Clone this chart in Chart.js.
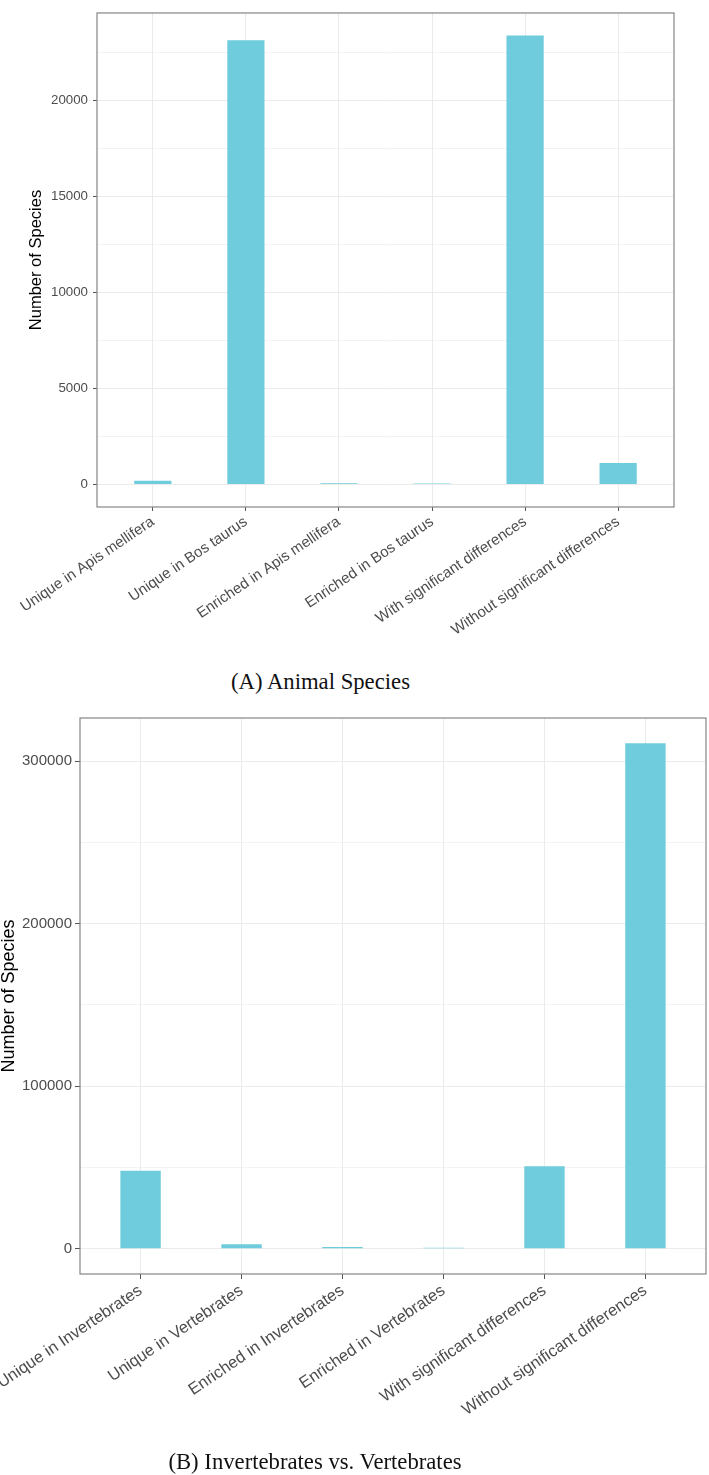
<!DOCTYPE html>
<html>
<head>
<meta charset="utf-8">
<script src="https://cdn.jsdelivr.net/npm/chart.js@4"></script>
<style>
  body { margin: 0; background: #fff; width: 709px; height: 1475px; position: relative; overflow: hidden; }
  canvas { position: absolute; left: 0; }
  #chartA { top: 0; }
  #chartB { top: 690px; }
  .caption {
    position: absolute; left: 0; text-align: center; color: #111;
    font-family: "Liberation Serif", "Times New Roman", serif;
    font-size: 22.7px; line-height: 22.7px;
  }
  #capA { top: 671px; width: 641px; }
  #capB { top: 1451px; width: 630px; }
</style>
</head>
<body>
<canvas id="chartA" width="709" height="650"></canvas>
<div class="caption" id="capA">(A) Animal Species</div>
<canvas id="chartB" width="709" height="760"></canvas>
<div class="caption" id="capB">(B) Invertebrates vs. Vertebrates</div>

<script>
// (A) animal species
const animalCategories = [
  "Unique in Apis mellifera",
  "Unique in Bos taurus",
  "Enriched in Apis mellifera",
  "Enriched in Bos taurus",
  "With significant differences",
  "Without significant differences"
];
const animalCounts = [200, 23150, 70, 60, 23400, 1120];
const animalTicks = [0, 5000, 10000, 15000, 20000];

// (B) invertebrates vs vertebrates
const invertCategories = [
  "Unique in Invertebrates",
  "Unique in Vertebrates",
  "Enriched in Invertebrates",
  "Enriched in Vertebrates",
  "With significant differences",
  "Without significant differences"
];
const invertCounts = [47950, 2700, 1100, 600, 50800, 311000];
const invertTicks = [0, 100000, 200000, 300000];

const sans = '"Liberation Sans", Arial, Helvetica, sans-serif';
const barColor = "#6fccdc";
const gridColor = "#ebebeb";

// panel border like ggplot theme_bw
const framePlugin = {
  id: "frame",
  afterDraw(chart) {
    const a = chart.chartArea;
    const ctx = chart.ctx;
    ctx.save();
    ctx.strokeStyle = "#858585";
    ctx.lineWidth = 1.2;
    ctx.strokeRect(a.left, a.top, a.right - a.left, a.bottom - a.top);
    ctx.restore();
  }
};

function makeChart(id, categories, counts, tickValues, s) {
  const top = Math.max(...counts);
  const step = tickValues[1] - tickValues[0];
  const data = counts.map((v, i) => ({ x: i, y: v }));

  return new Chart(document.getElementById(id), {
    type: "bar",
    data: {
      datasets: [{
        data: data,
        backgroundColor: barColor,
        borderWidth: 0,
        categoryPercentage: 1,
        barPercentage: 0.4
      }]
    },
    options: {
      responsive: false,
      animation: false,
      devicePixelRatio: 1,
      layout: { padding: s.padding },
      plugins: { legend: { display: false }, tooltip: { enabled: false } },
      scales: {
        x: {
          type: "linear",
          bounds: "data",
          offset: false,
          min: -0.6,
          max: categories.length - 0.4,
          afterBuildTicks: (scale) => {
            scale.ticks = categories.map((c, i) => ({ value: i }));
          },
          afterFit: (scale) => {
            // labels may run off the left edge, like the original
            scale.height = s.xHeight;
            scale.paddingLeft = 0;
            scale.paddingRight = 0;
          },
          border: { display: false },
          grid: { offset: false, color: gridColor, tickColor: "#555", tickLength: s.tickLen },
          ticks: {
            autoSkip: false,
            minRotation: 34,
            maxRotation: 34,
            padding: 2,
            color: "#4d4d4d",
            font: { family: sans, size: s.xFont },
            callback: (v) => categories[v]
          }
        },
        y: {
          bounds: "data",
          min: -0.05 * top,
          max: 1.05 * top,
          afterBuildTicks: (scale) => {
            const t = [];
            for (let v = 0; v <= 1.05 * top; v += step / 2) {
              t.push({ value: v, lbl: tickValues.includes(v) });
            }
            scale.ticks = t;
          },
          afterFit: (scale) => { scale.width = s.yWidth; },
          border: { display: false },
          grid: {
            color: gridColor,
            lineWidth: (ctx) => (ctx.tick && ctx.tick.lbl ? 1 : 0.6),
            tickColor: (ctx) => (ctx.tick && ctx.tick.lbl ? "#555" : "rgba(0,0,0,0)"),
            tickLength: s.tickLen
          },
          ticks: {
            padding: s.yPad,
            color: "#4d4d4d",
            font: { family: sans, size: s.yFont },
            callback: (v) => (tickValues.includes(v) ? String(v) : "")
          },
          title: {
            display: true,
            text: "Number of Species",
            color: "#000",
            padding: { top: s.titlePad, bottom: 0 },
            font: { family: sans, size: s.titleFont }
          }
        }
      }
    },
    plugins: [framePlugin]
  });
}

makeChart("chartA", animalCategories, animalCounts, animalTicks, {
  padding: { top: 2, right: 35, left: 0, bottom: 0 },
  xHeight: 143, yWidth: 97, tickLen: 4, yPad: 5,
  xFont: 15, yFont: 13.3, titleFont: 16.5, titlePad: 27
});

makeChart("chartB", invertCategories, invertCounts, invertTicks, {
  padding: { top: 28, right: 3, left: 0, bottom: 0 },
  xHeight: 176, yWidth: 80, tickLen: 5, yPad: 3,
  xFont: 16.5, yFont: 15, titleFont: 18, titlePad: -2
});
</script>
</body>
</html>
